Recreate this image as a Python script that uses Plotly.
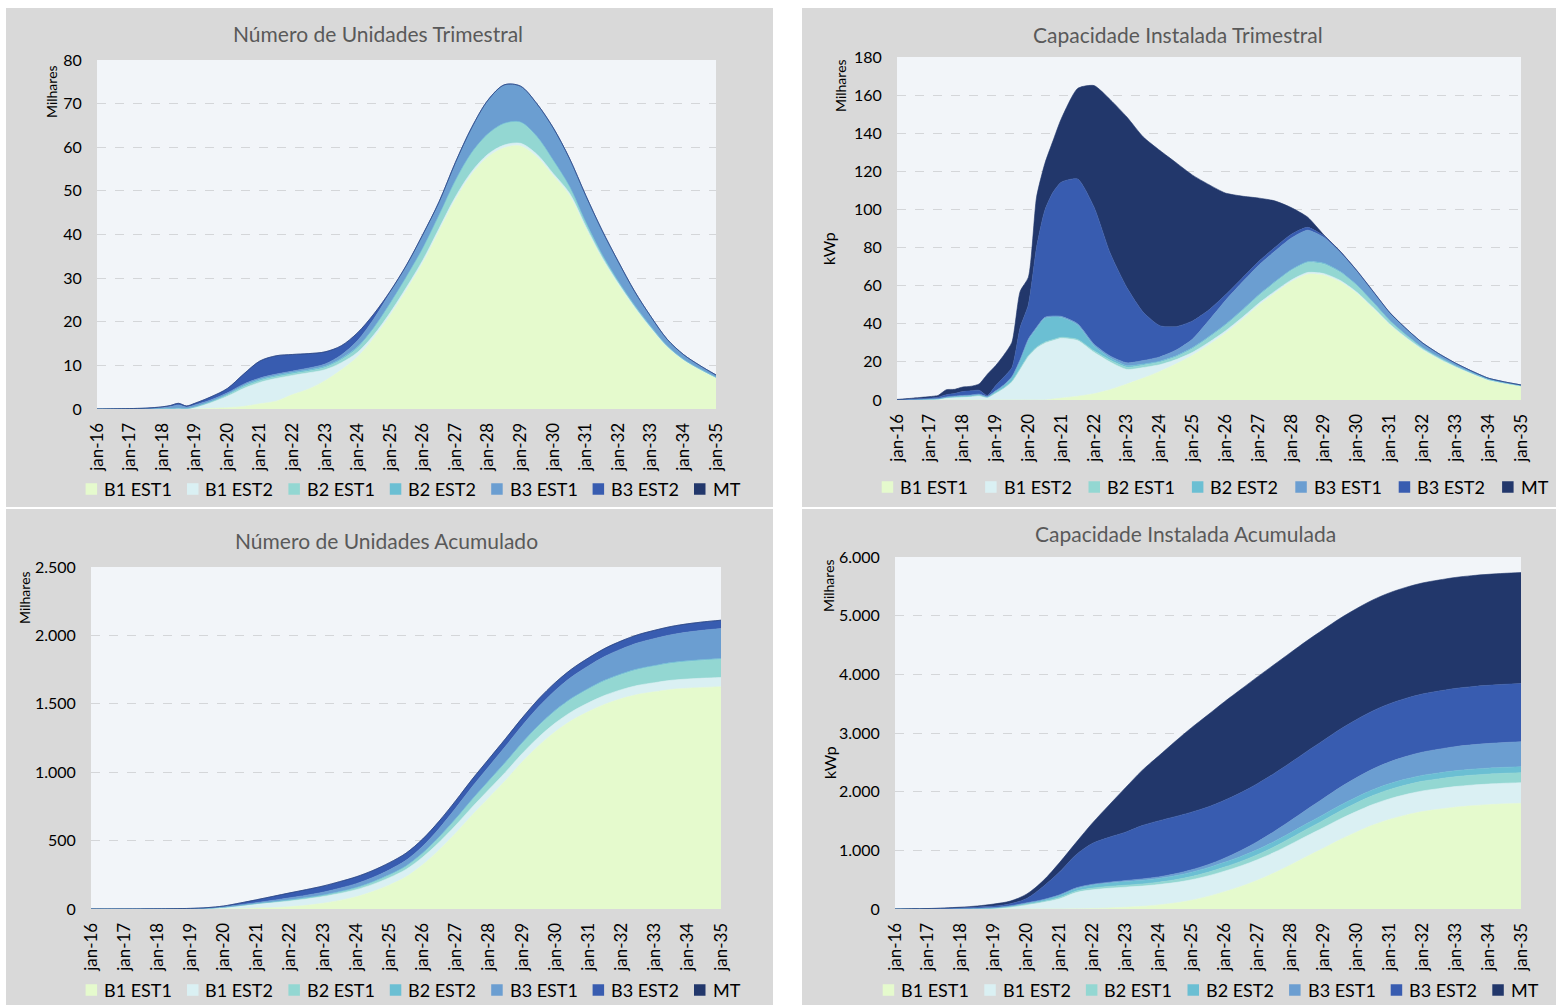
import plotly.graph_objects as go

# ---------------------------------------------------------------------------
# Series, colours and tick labels
# ---------------------------------------------------------------------------
SERIES = ["B1 EST1", "B1 EST2", "B2 EST1", "B2 EST2", "B3 EST1", "B3 EST2", "MT"]
CORES = ["#e5facd", "#daf0f3", "#93d7d2", "#6bbfd3", "#6b9ed1", "#385cb0", "#22376b"]
ROTULOS_ANO = ["jan-16", "jan-17", "jan-18", "jan-19", "jan-20", "jan-21", "jan-22",
               "jan-23", "jan-24", "jan-25", "jan-26", "jan-27", "jan-28", "jan-29",
               "jan-30", "jan-31", "jan-32", "jan-33", "jan-34", "jan-35"]

# ---------------------------------------------------------------------------
# Número de Unidades Trimestral (milhares) - time in years since jan-16
# ---------------------------------------------------------------------------
t_un_tri = [0, 0.5, 1, 1.5, 2, 2.25, 2.5, 2.75, 3, 3.5, 4, 4.5, 5, 5.5, 6, 6.5, 7, 7.5,
            8, 8.5, 9, 9.5, 10, 10.5, 11, 11.5, 12, 12.5, 13, 13.5, 14, 14.5, 15, 15.5,
            16, 16.5, 17, 17.5, 18, 18.5, 19]
un_tri_b1e1 = [0, 0, 0, 0, 0, 0, 0, 0, 0, 0.15, 0.3, 0.6, 1.2, 1.8, 3.3, 4.6, 6.5, 9.0,
               12.0, 16.3, 21.5, 27.3, 33.5, 40.8, 48.0, 53.8, 57.8, 59.9, 60.3, 57.8,
               53.5, 49.0, 41.5, 34.5, 28.5, 23.2, 18.4, 14.2, 11.2, 9.0, 7.1]
un_tri_b1e2 = [0, 0, 0, 0, 0.05, 0.1, 0.15, 0.1, 0.35, 1.3, 2.6, 4.1, 4.9, 5.2, 4.4, 3.7,
               2.5, 1.6, 1.0, 0.7, 0.6, 0.6, 0.6, 0.6, 0.6, 0.6, 0.6, 0.6, 0.6, 0.6, 0.5,
               0.5, 0.4, 0.3, 0.3, 0.2, 0.2, 0.1, 0.1, 0.1, 0.1]
un_tri_b2e1 = [0, 0, 0, 0, 0, 0, 0.05, 0, 0.1, 0.2, 0.3, 0.4, 0.4, 0.4, 0.4, 0.4, 0.5,
               0.7, 1.0, 1.5, 2.0, 2.4, 2.7, 3.0, 3.7, 4.3, 4.6, 4.9, 4.8, 4.0, 3.0, 1.5,
               0.9, 0.6, 0.4, 0.3, 0.2, 0.2, 0.1, 0.1, 0.05]
un_tri_b2e2 = [0, 0, 0, 0, 0, 0, 0, 0, 0.05, 0.1, 0.2, 0.3, 0.3, 0.3, 0.3, 0.3, 0.3, 0.3,
               0.3, 0.2, 0.2, 0.1, 0.1, 0.1, 0.1, 0.1, 0.1, 0.1, 0.1, 0.1, 0.1, 0.1, 0.1,
               0.1, 0.1, 0.1, 0.1, 0, 0, 0, 0]
un_tri_b3e1 = [0, 0.05, 0.1, 0.15, 0.3, 0.45, 0.7, 0.35, 0.4, 0.35, 0.3, 0.3, 0.3, 0.3,
               0.3, 0.4, 0.5, 0.8, 1.4, 2.0, 2.4, 2.5, 3.0, 3.0, 4.1, 5.7, 7.7, 8.8, 8.2,
               7.5, 7.4, 6.4, 6.1, 5.5, 4.5, 3.2, 2.3, 1.5, 1.1, 0.8, 0.55]
un_tri_b3e2 = [0, 0, 0, 0.05, 0.15, 0.25, 0.4, 0.25, 0.4, 0.7, 1.0, 2.3, 3.9, 4.2, 3.8,
               3.3, 2.8, 2.1, 1.8, 1.1, 0.3, 0.1, 0.1, 0, 0, 0, 0, 0, 0, 0, 0, 0, 0, 0,
               0, 0, 0, 0, 0, 0, 0]
un_tri_mt = [0, 0, 0, 0, 0, 0, 0, 0, 0, 0, 0, 0, 0, 0, 0, 0, 0, 0, 0, 0, 0, 0, 0, 0, 0,
             0, 0, 0, 0, 0, 0, 0, 0, 0, 0, 0, 0, 0, 0, 0, 0]

# ---------------------------------------------------------------------------
# Capacidade Instalada Trimestral (milhares de kWp)
# ---------------------------------------------------------------------------
t_cap_tri = [0, 0.25, 0.5, 0.75, 1, 1.25, 1.5, 1.75, 2, 2.25, 2.5, 2.75, 3, 3.25, 3.5,
             3.75, 4, 4.25, 4.5, 4.75, 5, 5.5, 6, 6.5, 7, 7.5, 8, 8.5, 9, 9.5, 10, 10.5,
             11, 11.5, 12, 12.5, 13, 13.5, 14, 14.5, 15, 15.5, 16, 16.5, 17, 17.5, 18,
             18.5, 19]
cap_tri_b1e1 = [0, 0, 0, 0, 0, 0, 0, 0, 0, 0, 0, 0, 0, 0, 0, 0, 0, 0, 0, 0.5, 1.0, 2.0,
                3.3, 5.5, 8.4, 11.5, 15, 19, 23.5, 29, 35, 42, 49.5, 56, 62, 66, 65.5, 62,
                56, 48, 39.5, 32.5, 26.3, 21.5, 17.3, 13.7, 10.4, 8.7, 7.3]
cap_tri_b1e2 = [0.1, 0.1, 0.2, 0.3, 0.4, 0.5, 1.2, 1.4, 1.6, 1.8, 2.2, 1.3, 3.5, 6.0, 9.5,
                16.0, 22.8, 27.2, 29.8, 30.7, 31.4, 29.2, 21.7, 14.3, 7.6, 5.5, 3.5, 2.2,
                1.5, 1.3, 1.2, 1.1, 1.0, 1.0, 0.9, 0.9, 0.8, 0.7, 0.6, 0.5, 0.4, 0.3, 0.3,
                0.2, 0.2, 0.2, 0.1, 0.1, 0.1]
cap_tri_b2e1 = [0, 0, 0, 0, 0, 0, 0, 0.1, 0.1, 0.1, 0.1, 0.1, 0.2, 0.3, 0.4, 0.5, 0.5,
                0.5, 0.5, 0.5, 0.5, 0.6, 0.8, 1.0, 1.2, 1.3, 1.4, 1.5, 2.0, 2.5, 3.0, 3.5,
                4.0, 4.5, 5.0, 5.2, 5.0, 4.3, 3.5, 2.6, 1.8, 1.3, 0.9, 0.7, 0.5, 0.3, 0.3,
                0.2, 0.1]
cap_tri_b2e2 = [0, 0, 0, 0, 0.1, 0.1, 0.2, 0.3, 0.4, 0.4, 0.5, 0.3, 0.8, 1.2, 2.0, 4.2,
                8.2, 10.0, 12.6, 11.9, 10.5, 7.6, 2.7, 1.2, 0.8, 0.6, 0.5, 0.5, 0.5, 0.5,
                0.5, 0.5, 0.5, 0.5, 0.5, 0.5, 0.5, 0.4, 0.3, 0.3, 0.2, 0.2, 0.1, 0.1, 0.1,
                0.1, 0.1, 0, 0]
cap_tri_b3e1 = [0, 0.1, 0.1, 0.1, 0.1, 0.2, 0.2, 0.3, 0.3, 0.3, 0.3, 0.2, 0.3, 0.4, 0.4,
                0.5, 0.5, 0.5, 0.5, 0.5, 0.5, 0.6, 0.8, 1.0, 1.5, 1.8, 2.2, 3.0, 4.5, 8.5,
                12.5, 14.5, 15.5, 16.0, 16.5, 16.5, 13.5, 10.0, 7.2, 5.3, 3.9, 3.1, 2.4,
                1.8, 1.3, 0.9, 0.6, 0.5, 0.4]
cap_tri_b3e2 = [0.1, 0.2, 0.3, 0.4, 0.5, 0.7, 1.2, 1.3, 2.0, 2.2, 2.0, 0.5, 2.7, 4.1, 4.7,
                16.8, 18.0, 42.0, 56.1, 64.9, 70.4, 76.0, 71.9, 53.7, 39.5, 25.3, 16.4,
                12.3, 9.5, 5.5, 3.0, 2.2, 2.0, 2.0, 2.0, 1.5, 0.8, 0.4, 0.3, 0.2, 0.1, 0.1,
                0, 0, 0, 0, 0, 0, 0]
cap_tri_mt = [0.1, 0.2, 0.4, 0.6, 0.7, 0.9, 2.6, 2.2, 2.4, 2.4, 3.3, 11.1, 10.5, 11.5,
              13.3, 19.0, 14.4, 26.3, 24.5, 27.0, 33.2, 47.5, 63.8, 80.8, 89.5, 92, 92, 86,
              76.5, 65.7, 53.4, 43.2, 33.5, 24.5, 14.1, 5.4, 0.5, 0.2, 0.1, 0.1, 0.1, 0, 0,
              0, 0, 0, 0, 0, 0]

# ---------------------------------------------------------------------------
# Número de Unidades Acumulado (milhares)
# ---------------------------------------------------------------------------
t_un_acu = [0, 0.5, 1, 1.5, 2, 2.5, 3, 3.5, 4, 4.5, 5, 5.5, 6, 6.5, 7, 7.5, 8, 8.5, 9,
            9.5, 10, 10.5, 11, 11.5, 12, 12.5, 13, 13.5, 14, 14.5, 15, 15.5, 16, 16.5,
            17, 17.5, 18, 18.5, 19]
un_acu_b1e1 = [0, 0, 0, 0, 0, 0, 0, 0.5, 1, 3, 7, 10, 17, 27, 42, 63, 90, 128, 176, 235,
               323, 432, 555, 688, 814, 940, 1074, 1194, 1296, 1379, 1443, 1497, 1538,
               1569, 1588, 1605, 1614, 1620, 1625]
un_acu_b1e2 = [0, 0, 0, 0, 0.1, 0.3, 0.8, 3, 10, 20, 30, 37, 42, 46, 48.5, 50, 51, 52, 53,
               54, 55, 56, 57, 58, 59, 60, 61, 62, 63, 63.5, 64, 65, 65.5, 66, 66.5, 67,
               67.3, 67.7, 68]
un_acu_b2e1 = [0, 0, 0, 0.1, 0.2, 0.4, 0.6, 1.1, 1.4, 2.1, 2.6, 4.5, 6.2, 7.8, 9.2, 11.5,
               13.5, 16, 19, 22.5, 27.5, 35.5, 45, 54, 62, 69.5, 75.5, 82.5, 89, 95, 101,
               106.5, 111.5, 116.5, 121, 124.5, 128, 131, 133]
un_acu_b2e2 = [0, 0, 0, 0, 0, 0, 0.1, 0.2, 0.5, 1, 1.5, 2, 2.3, 2.6, 2.9, 3.1, 3.3, 3.4,
               3.5, 3.65, 3.8, 3.9, 4.0, 4.1, 4.2, 4.3, 4.4, 4.5, 4.6, 4.65, 4.7, 4.75,
               4.8, 4.85, 4.9, 4.95, 5, 5, 5]
un_acu_b3e1 = [0, 0.1, 0.2, 0.3, 0.6, 1.1, 1.6, 2.7, 3.1, 4.9, 5.9, 10.5, 14.5, 17.6,
               20.4, 24.4, 27.5, 31, 35, 40.5, 48.5, 61.5, 77, 91, 103, 115.5, 124.5,
               135.5, 145, 155, 164, 173.5, 181.5, 189.5, 197, 203.5, 210, 215, 219]
un_acu_b3e2 = [0, 0, 0.1, 0.2, 0.4, 0.8, 1.4, 2.5, 6, 13, 21, 29, 36, 41, 45, 48, 50, 51,
               52, 52.5, 53, 53.5, 54, 54.5, 55, 55.5, 56, 56.5, 57, 57.5, 58, 58.5, 59,
               59.5, 60, 60.3, 60.6, 60.8, 61]
un_acu_mt = [0, 0, 0, 0, 0, 0, 0, 0, 0, 0, 0, 0, 0, 0, 0, 0, 0, 0, 0, 0, 0, 0, 0, 0, 0,
             0, 0, 0, 0, 0, 0, 0, 0, 0, 0, 0, 0, 0, 0]

# ---------------------------------------------------------------------------
# Capacidade Instalada Acumulada (milhares de kWp)
# ---------------------------------------------------------------------------
t_cap_acu = [0, 0.5, 1, 1.5, 2, 2.5, 3, 3.5, 4, 4.5, 5, 5.5, 6, 6.5, 7, 7.5, 8, 8.5, 9,
             9.5, 10, 10.5, 11, 11.5, 12, 12.5, 13, 13.5, 14, 14.5, 15, 15.5, 16, 16.5,
             17, 17.5, 18, 18.5, 19]
cap_acu_b1e1 = [0, 0, 0, 0, 0, 0, 0, 0, 0, 0, 0, 3, 8, 18, 30, 45, 70, 102, 150, 215, 295,
                385, 490, 612, 750, 895, 1035, 1180, 1310, 1430, 1525, 1600, 1660, 1700,
                1735, 1760, 1778, 1792, 1802]
cap_acu_b1e2 = [0, 0.5, 1.5, 3, 5, 7, 10, 30, 70, 115, 175, 277, 319, 335, 342, 345, 347,
                348, 348.5, 349, 349.3, 349.6, 349.9, 350.1, 350.3, 350.5, 350.6, 350.7,
                350.8, 350.9, 351, 351, 351, 351, 351, 351, 351, 351, 351]
cap_acu_b2e1 = [0, 0, 0.2, 0.5, 1, 1.5, 3, 7, 11, 14, 20, 25, 29, 32, 34, 37, 40, 47, 55,
                62, 70, 77, 85, 95, 105, 115, 125, 135, 145, 152, 158, 162, 165, 166.5,
                168, 169, 169.5, 169.8, 170]
cap_acu_b2e2 = [0, 0.2, 0.5, 1, 2, 3, 7, 13, 19, 25, 40, 46, 54, 58, 62, 64, 65, 70, 75,
                79, 82, 85, 88, 91, 93, 95, 97, 98.5, 100, 100.5, 101, 101.3, 101.5, 101.7,
                102, 102, 102, 102, 102]
cap_acu_b3e1 = [0, 0.3, 0.8, 1.5, 2, 3, 4, 5, 6, 7, 8, 10, 12, 14, 17, 21, 25, 32, 40, 50,
                70, 100, 135, 170, 205, 240, 275, 305, 330, 352, 370, 384, 395, 404, 411,
                416, 420, 423, 425]
cap_acu_b3e2 = [0, 1, 2.5, 6, 11, 18, 26, 35, 74, 223, 392, 565, 698, 766, 825, 910, 955,
                975, 982, 985, 987, 988, 988.5, 989, 989.5, 990, 990.3, 990.5, 990.6, 990.8,
                991, 991.2, 991.4, 991.6, 991.7, 991.8, 991.9, 992, 992]
cap_acu_mt = [0, 1, 2.5, 6, 11, 19.5, 35, 45, 75, 100, 160, 210, 350, 550, 760, 940, 1105,
              1280, 1440, 1570, 1680, 1760, 1820, 1855, 1875, 1886, 1890, 1891, 1891,
              1891.5, 1892, 1892, 1892, 1892, 1892, 1892, 1892, 1892, 1892]

# ---------------------------------------------------------------------------
# Page geometry (pixels) and helpers
# ---------------------------------------------------------------------------
W, H = 1558, 1005
FONTE = "Lato"
FUNDO_PAINEL = "#d9d9d9"
FUNDO_GRAFICO = "#f2f5f9"


def fx(px):
    return px / W


def fy(py):
    return 1 - py / H


paineis = [
    dict(titulo="Número de Unidades Trimestral", t=t_un_tri,
         valores=[un_tri_b1e1, un_tri_b1e2, un_tri_b2e1, un_tri_b2e2, un_tri_b3e1,
                  un_tri_b3e2, un_tri_mt],
         caixa=(6, 773, 8, 507), area=(97, 716, 60, 409), titulo_xy=(378, 34),
         ymax=80, passo=10, legenda=(85.6, 101.4, 489), milhares_xy=(52, 92),
         kwp_xy=None, suave=0.9),
    dict(titulo="Capacidade Instalada Trimestral", t=t_cap_tri,
         valores=[cap_tri_b1e1, cap_tri_b1e2, cap_tri_b2e1, cap_tri_b2e2, cap_tri_b3e1,
                  cap_tri_b3e2, cap_tri_mt],
         caixa=(802, 1556, 8, 507), area=(897, 1521, 57, 400), titulo_xy=(1178, 35),
         ymax=180, passo=20, legenda=(881.7, 103.4, 487), milhares_xy=(841, 85),
         kwp_xy=(828, 248), suave=0.6),
    dict(titulo="Número de Unidades Acumulado", t=t_un_acu,
         valores=[un_acu_b1e1, un_acu_b1e2, un_acu_b2e1, un_acu_b2e2, un_acu_b3e1,
                  un_acu_b3e2, un_acu_mt],
         caixa=(6, 773, 509, 1005), area=(91, 721, 567, 909), titulo_xy=(386, 540),
         ymax=2500, passo=500, legenda=(85.6, 101.4, 990), milhares_xy=(24, 598),
         kwp_xy=None, suave=0.9),
    dict(titulo="Capacidade Instalada Acumulada", t=t_cap_acu,
         valores=[cap_acu_b1e1, cap_acu_b1e2, cap_acu_b2e1, cap_acu_b2e2, cap_acu_b3e1,
                  cap_acu_b3e2, cap_acu_mt],
         caixa=(802, 1556, 509, 1005), area=(895, 1521, 557, 909), titulo_xy=(1185, 533),
         ymax=6000, passo=1000, legenda=(882.7, 101.6, 990), milhares_xy=(828, 585),
         kwp_xy=(829, 763), suave=0.9),
]

fig = go.Figure()
shapes, annotations = [], []
layout_extra = {}
LADO = 11.5  # legend swatch size (px)

for i, p in enumerate(paineis, start=1):
    sfx = "" if i == 1 else str(i)
    xa, ya = "x" + sfx, "y" + sfx

    # stacked areas
    for nome, cor, vals in zip(SERIES, CORES, p["valores"]):
        fig.add_trace(go.Scatter(
            x=p["t"], y=vals, name=nome, stackgroup="g%d" % i, mode="lines",
            line=dict(color=cor, width=0.6, shape="spline", smoothing=p["suave"]),
            fillcolor=cor, showlegend=False, hoverinfo="skip", xaxis=xa, yaxis=ya))

    x0, x1, y0, y1 = p["area"]
    layout_extra["xaxis" + sfx] = dict(
        domain=[fx(x0), fx(x1)], anchor=ya, range=[0, 19], automargin=False,
        tickmode="array", tickvals=list(range(20)), ticktext=ROTULOS_ANO,
        tickangle=-90, showgrid=False, zeroline=False, showline=False,
        ticks="outside", ticklen=6, tickcolor="rgba(0,0,0,0)",
        tickfont=dict(family=FONTE, size=17, color="#000000"), fixedrange=True)
    layout_extra["yaxis" + sfx] = dict(
        domain=[fy(y1), fy(y0)], anchor=xa, range=[0, p["ymax"]], automargin=False,
        tick0=0, dtick=p["passo"], tickformat=",.0f",
        showgrid=True, gridcolor="#d4d6d9", griddash="dash", gridwidth=1,
        zeroline=False, showline=False,
        ticks="outside", ticklen=11, tickcolor="rgba(0,0,0,0)",
        tickfont=dict(family=FONTE, size=16, color="#000000"), fixedrange=True)

    # panel background and plot area background
    cx0, cx1, cy0, cy1 = p["caixa"]
    shapes.append(dict(type="rect", xref="paper", yref="paper", layer="below",
                       x0=fx(cx0), x1=fx(cx1), y0=fy(cy1), y1=fy(cy0),
                       fillcolor=FUNDO_PAINEL, line=dict(width=0)))
    shapes.append(dict(type="rect", xref="paper", yref="paper", layer="below",
                       x0=fx(x0), x1=fx(x1), y0=fy(y1), y1=fy(y0),
                       fillcolor=FUNDO_GRAFICO, line=dict(width=0)))

    # legend: square swatch + label for each series
    lx, passo_leg, ly = p["legenda"]
    for k, (nome, cor) in enumerate(zip(SERIES, CORES)):
        sx = lx + k * passo_leg
        shapes.append(dict(type="rect", xref="paper", yref="paper", layer="above",
                           x0=fx(sx), x1=fx(sx + LADO),
                           y0=fy(ly + LADO / 2), y1=fy(ly - LADO / 2),
                           fillcolor=cor, line=dict(width=0)))
        annotations.append(dict(text=nome, xref="paper", yref="paper",
                                x=fx(sx + LADO + 5), y=fy(ly), xanchor="left",
                                yanchor="middle", showarrow=False,
                                font=dict(family=FONTE, size=18, color="#000000")))

    annotations.append(dict(text=p["titulo"], xref="paper", yref="paper",
                            x=fx(p["titulo_xy"][0]), y=fy(p["titulo_xy"][1]),
                            xanchor="center", yanchor="middle", showarrow=False,
                            font=dict(family=FONTE, size=21, color="#595959")))
    annotations.append(dict(text="Milhares", xref="paper", yref="paper",
                            x=fx(p["milhares_xy"][0]), y=fy(p["milhares_xy"][1]),
                            xanchor="center", yanchor="middle", showarrow=False,
                            textangle=-90,
                            font=dict(family=FONTE, size=14, color="#000000")))
    if p["kwp_xy"]:
        annotations.append(dict(text="kWp", xref="paper", yref="paper",
                                x=fx(p["kwp_xy"][0]), y=fy(p["kwp_xy"][1]),
                                xanchor="center", yanchor="middle", showarrow=False,
                                textangle=-90,
                                font=dict(family=FONTE, size=16, color="#000000")))

fig.update_layout(
    width=W, height=H, margin=dict(l=0, r=0, t=0, b=0, pad=0, autoexpand=False),
    paper_bgcolor="#ffffff", plot_bgcolor="rgba(0,0,0,0)", showlegend=False,
    separators=",.", font=dict(family=FONTE, color="#000000"),
    shapes=shapes, annotations=annotations, hovermode=False,
    **layout_extra)

fig.write_html("out.html")
